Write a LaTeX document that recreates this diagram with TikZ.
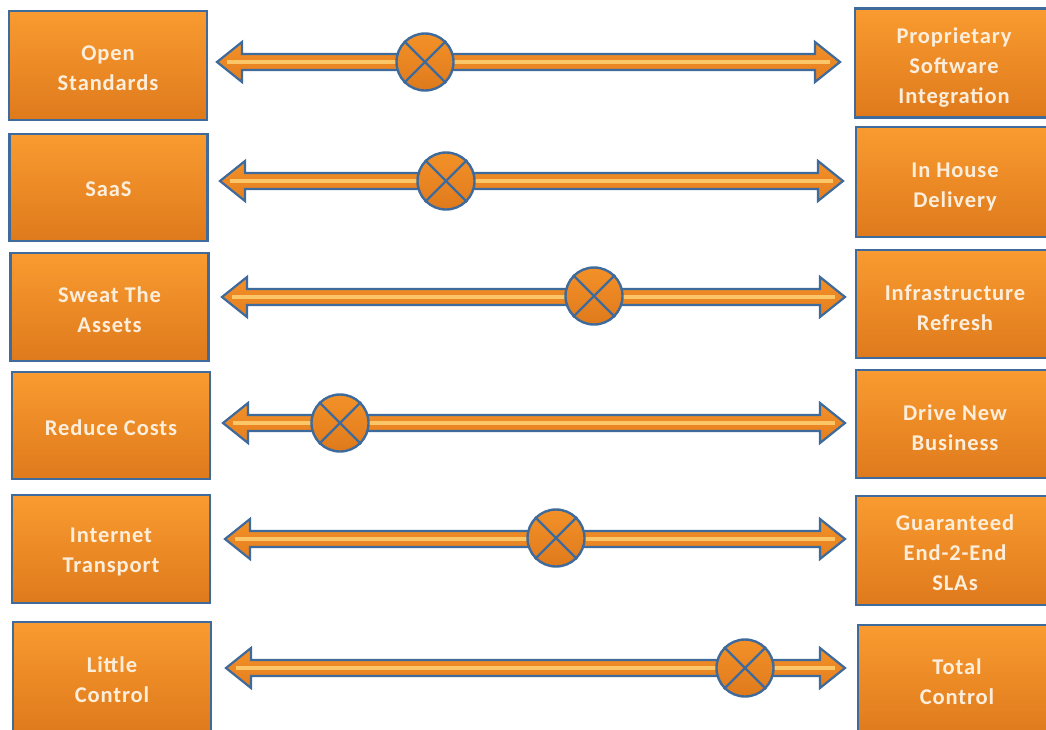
\documentclass[tikz,border=0pt]{standalone}
\usepackage{fontspec}
\setmainfont{Carlito}
\newfontfamily\boxfont[LetterSpace=4]{Carlito}
\definecolor{orTop}{HTML}{F99B30}
\definecolor{orBot}{HTML}{DF7A1C}
\definecolor{arTop}{HTML}{F39128}
\definecolor{arBot}{HTML}{E47E1F}
\definecolor{blEdge}{HTML}{3E6A9C}
\definecolor{hiLite}{HTML}{FBC667}
\definecolor{txtCol}{HTML}{FDEEDC}
\tikzset{
  boxnode/.style={draw=blEdge, line width=2.6pt, top color=orTop, bottom color=orBot,
    minimum width=198pt, inner sep=0pt},
  boxtext/.style={align=center, text=txtCol, inner sep=0pt,
    font=\boxfont\bfseries\fontsize{22.5}{30}\selectfont},
  markernode/.style={circle, draw=blEdge, line width=2.4pt, top color=arTop, bottom color=orBot,
    minimum size=57pt, inner sep=0pt},
  arrbody/.style={draw=blEdge, line width=2.2pt, line join=miter, top color=arTop, bottom color=arBot},
  hiline/.style={hiLite, line width=4.5pt},
  crossline/.style={blEdge, line width=2.4pt}
}
\newcommand\barrow[3]{%
  \path[arrbody] (#1,#3) -- (#1+25,#3-20) -- (#1+25,#3-8) -- (#2-25,#3-8) -- (#2-25,#3-20)
    -- (#2,#3) -- (#2-25,#3+20) -- (#2-25,#3+8) -- (#1+25,#3+8) -- (#1+25,#3+20) -- cycle;
  \draw[hiline] (#1+10,#3) -- (#2-10,#3);
}
\newcommand\marker[3]{%
  \node[markernode] (#1) at (#2,#3) {};
  \draw[crossline] (#1.45) -- (#1.225) (#1.135) -- (#1.315);
}
\begin{document}
\begin{tikzpicture}[x=1pt,y=-1pt]
\clip (0,0) rectangle (1046,729);
\fill[white] (0,0) rectangle (1046,729);
% left boxes
\node[boxnode, minimum height=109pt] (l1) at (108,65.5) {};
\node[boxnode, minimum height=107pt] (l2) at (108.5,187.5) {};
\node[boxnode, minimum height=108pt] (l3) at (109.5,307) {};
\node[boxnode, minimum height=107pt] (l4) at (111,425.5) {};
\node[boxnode, minimum height=108pt] (l5) at (111,549) {};
\node[boxnode, minimum height=110pt] (l6) at (112,677) {};
\node[boxtext] (l1t) at ([yshift=-3pt]l1.center) {Open\\Standards};
\node[boxtext] (l2t) at ([yshift=-2pt]l2.center) {SaaS};
\node[boxtext] (l3t) at ([yshift=-3pt]l3.center) {Sweat The\\Assets};
\node[boxtext] (l4t) at ([yshift=-2.5pt]l4.center) {Reduce Costs};
\node[boxtext] (l5t) at ([yshift=-3pt]l5.center) {Internet\\Transport};
\node[boxtext] (l6t) at ([yshift=-2.5pt]l6.center) {Little\\Control};
% right boxes
\node[boxnode, minimum height=109pt] (r1) at (954,63) {};
\node[boxnode, minimum height=110pt] (r2) at (955,182) {};
\node[boxnode, minimum height=108pt] (r3) at (955,304) {};
\node[boxnode, minimum height=108pt] (r4) at (955,424) {};
\node[boxnode, minimum height=109pt] (r5) at (955,550.5) {};
\node[boxnode, minimum height=110pt] (r6) at (957,680) {};
\node[boxtext] (r1t) at ([yshift=-4.5pt]r1.center) {Proprietary\\Software\\Integration};
\node[boxtext] (r2t) at ([yshift=-4.5pt]r2.center) {In House\\Delivery};
\node[boxtext] (r3t) at ([yshift=-3.5pt]r3.center) {Infrastructure\\Refresh};
\node[boxtext] (r4t) at ([yshift=-3.5pt]r4.center) {Drive New\\Business};
\node[boxtext] (r5t) at ([yshift=-2pt]r5.center) {Guaranteed\\End-2-End\\SLAs};
\node[boxtext] (r6t) at ([yshift=-1.5pt]r6.center) {Total\\Control};
% arrows
\barrow{217}{840}{62}
\barrow{220}{843}{181}
\barrow{222}{845}{297}
\barrow{223}{845}{423}
\barrow{225}{845}{539}
\barrow{226}{845}{668}
% markers
\marker{m1}{425}{62}
\marker{m2}{446}{181}
\marker{m3}{594}{296}
\marker{m4}{340}{423}
\marker{m5}{556}{538}
\marker{m6}{745}{668}
\end{tikzpicture}
\end{document}
